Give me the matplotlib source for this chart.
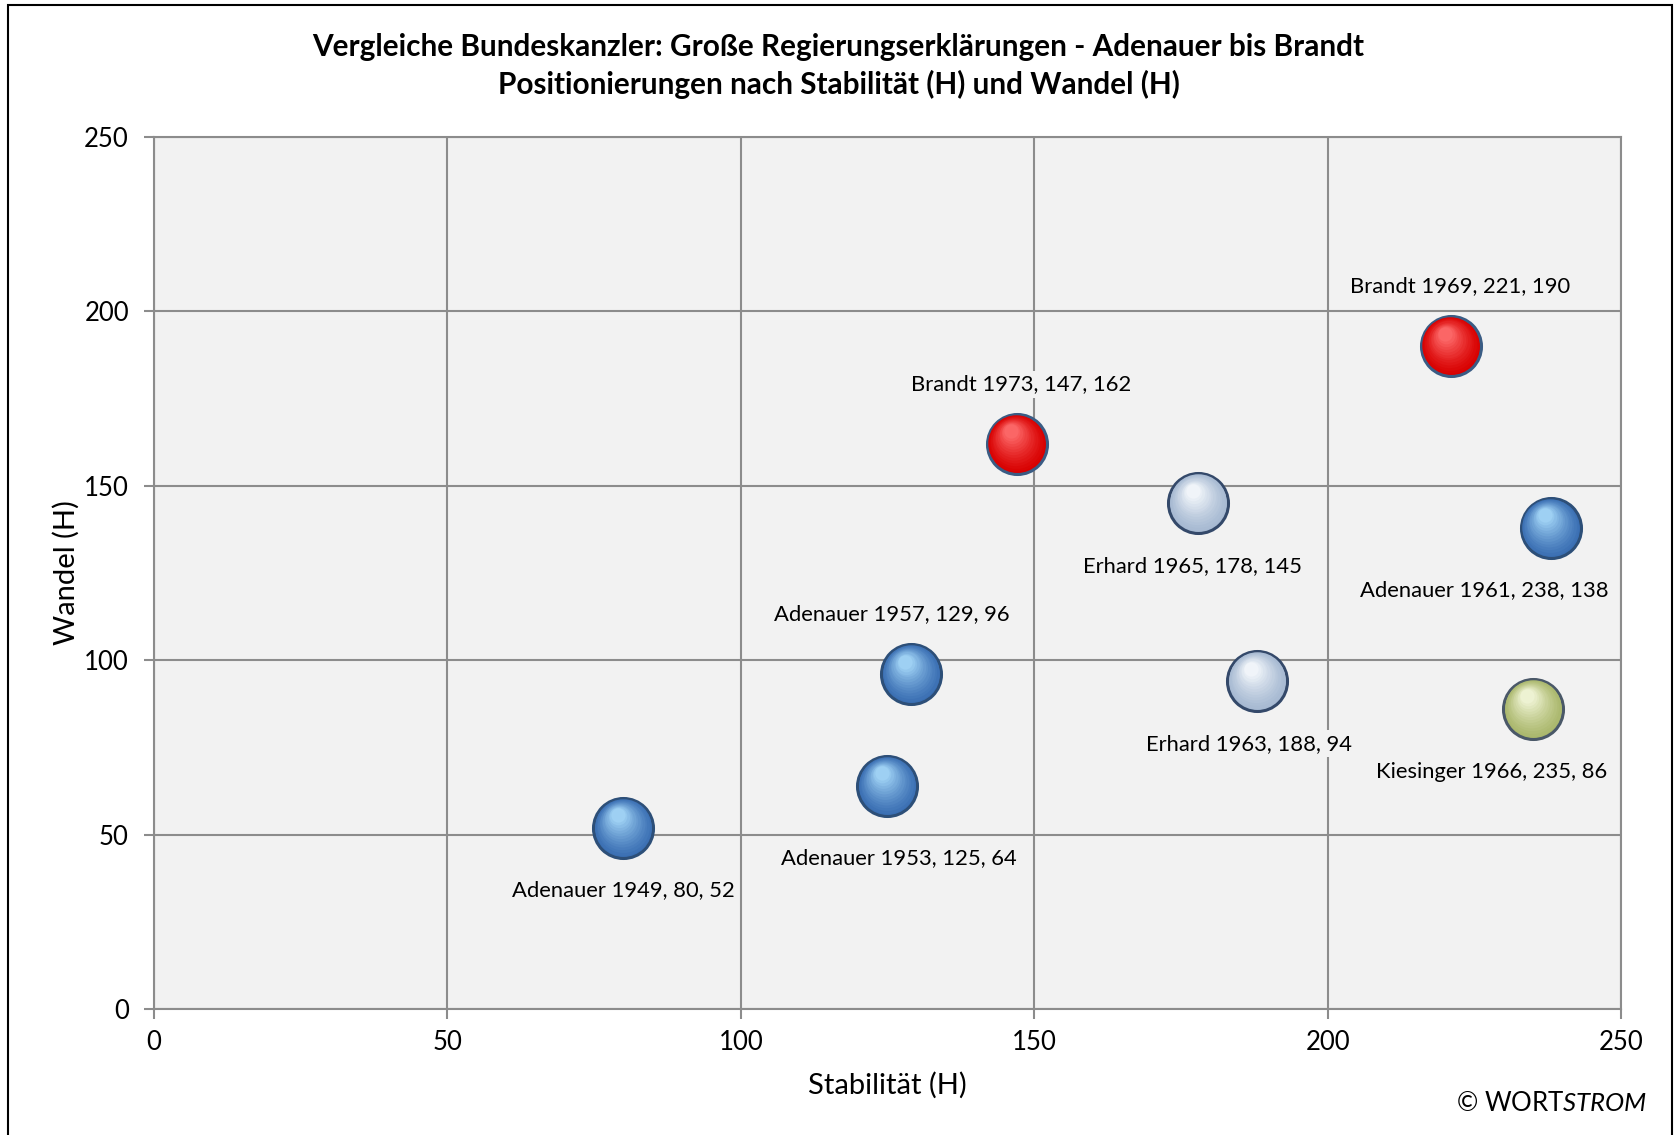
import numpy as np
import matplotlib
matplotlib.use("Agg")
from matplotlib import pyplot as plt
from matplotlib import transforms
from matplotlib.patches import Rectangle
from matplotlib.colors import to_rgb

plt.rcParams['font.family'] = ['Lato', 'DejaVu Sans']
plt.rcParams['mathtext.fontset'] = 'custom'
plt.rcParams['mathtext.it'] = 'Lato:italic'
plt.rcParams['mathtext.rm'] = 'Lato'

# Data
names = ['Adenauer 1949', 'Adenauer 1953', 'Adenauer 1957', 'Adenauer 1961',
         'Erhard 1963', 'Erhard 1965', 'Kiesinger 1966', 'Brandt 1969', 'Brandt 1973']
stabilitaet = [80, 125, 129, 238, 188, 178, 235, 221, 147]
wandel = [52, 64, 96, 138, 94, 145, 86, 190, 162]
groups = ['Adenauer', 'Adenauer', 'Adenauer', 'Adenauer',
          'Erhard', 'Erhard', 'Kiesinger', 'Brandt', 'Brandt']

# style per group: base, highlight, edge
palette = {
    'Adenauer': ('#3A6FB3', '#A8DAFA', '#2D4F78'),
    'Erhard': ('#A6B9D2', '#F7FAFD', '#34496A'),
    'Kiesinger': ('#AAB76C', '#F4F8DC', '#4A5868'),
    'Brandt': ('#D80000', '#FF7070', '#3A5C84'),
}
# label offsets in points (dx, dy)
label_off = [(0, -45), (8, -52), (-14, 43), (-48, -45), (-6, -45),
             (-4, -45), (-30, -45), (7, 43), (3, 43)]

fig = plt.figure(figsize=(16.77, 11.35), dpi=100)
ax = fig.add_axes([0.0918, 0.111, 0.8748, 0.7683])
ax.set_facecolor('#F2F2F2')
ax.set_xlim(0, 250)
ax.set_ylim(0, 250)
ax.set_xticks(np.arange(0, 251, 50))
ax.set_yticks(np.arange(0, 251, 50))
ax.grid(True, color='#8C8C8C', linewidth=1.5)
ax.set_axisbelow(True)
for s in ax.spines.values():
    s.set_color('#8C8C8C')
    s.set_linewidth(1.5)
ax.tick_params(colors='#8C8C8C', labelcolor='black', labelsize=18.5, length=7, width=1.5)
ax.tick_params(axis='y', pad=11)
ax.tick_params(axis='x', pad=8)

r = 21.6  # bubble radius in points
n = 14
for x, y, g in zip(stabilitaet, wandel, groups):
    base, light, edge = palette[g]
    ax.scatter([x], [y], s=(2 * r) ** 2, color=base, edgecolor=edge, linewidth=2.2, zorder=3)
    b = np.array(to_rgb(base))
    l = np.array(to_rgb(light))
    for k in range(1, n):
        t = k / n
        f = 1 - 0.82 * t
        off = (1 - f) * r
        tr = transforms.offset_copy(ax.transData, fig=fig, x=-0.25 * off, y=0.55 * off, units='points')
        c = b + (l - b) * t ** 1.3
        ax.scatter([x], [y], s=(2 * r * f) ** 2, color=c, linewidth=0, transform=tr, zorder=3 + k * 0.01)

for nm, x, y, (dx, dy) in zip(names, stabilitaet, wandel, label_off):
    ax.annotate(f'{nm}, {x}, {y}', (x, y), xytext=(dx, dy), textcoords='offset points',
                ha='center', va='center', fontsize=15.8,
                bbox=dict(boxstyle='square,pad=0.15', fc='#F2F2F2', ec='none'), zorder=5)

ax.set_xlabel('Stabilität (H)', fontsize=21, labelpad=12)
ax.set_ylabel('Wandel (H)', fontsize=21, labelpad=3)

fig.text(0.5, 0.959, 'Vergleiche Bundeskanzler: Große Regierungserklärungen - Adenauer bis Brandt',
         ha='center', va='center', fontsize=21.4, fontweight='bold')
fig.text(0.5, 0.926, 'Positionierungen nach Stabilität (H) und Wandel (H)',
         ha='center', va='center', fontsize=21.4, fontweight='bold')

fig.text(0.982, 0.028, r'© WORT$\it{STROM}$', ha='right', va='center', fontsize=18.5)

fig.patches.append(Rectangle((0.005, -0.02), 0.992, 1.016, transform=fig.transFigure,
                             fill=False, edgecolor='black', linewidth=1.5))

fig.savefig('out.png', dpi=100)
